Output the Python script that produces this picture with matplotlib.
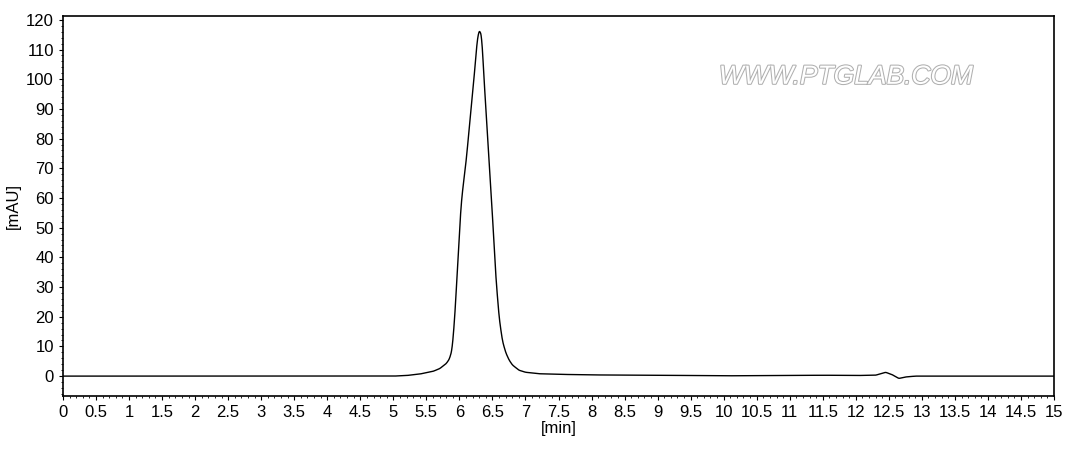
import numpy as np
import matplotlib
matplotlib.use("Agg")
import matplotlib.pyplot as plt
import matplotlib.patheffects as pe
from matplotlib.ticker import MultipleLocator

t = [0, 5.0, 5.2, 5.4, 5.6, 5.7, 5.8, 5.85, 5.89, 5.93, 5.98, 6.02, 6.05, 6.1, 6.16, 6.22, 6.26, 6.29, 6.31, 6.34, 6.37, 6.43, 6.49, 6.55, 6.6, 6.65, 6.7, 6.75, 6.8, 6.9, 7.0, 7.2, 7.5, 8.0, 9.0, 10.0, 11.0, 11.5, 12.0, 12.3, 12.45, 12.55, 12.65, 12.75, 12.9, 15.0]
mau = [0, 0, 0.2, 0.7, 1.6, 2.5, 4.2, 5.8, 9, 20, 40, 56, 63, 72, 86, 100, 111, 116, 116.5, 114, 101, 80, 58, 34, 20, 12, 8, 5.5, 3.8, 2.0, 1.3, 0.8, 0.6, 0.4, 0.3, 0.1, 0.2, 0.3, 0.2, 0.3, 1.3, 0.5, -0.8, -0.3, 0, 0]

fig = plt.figure(figsize=(10.81, 4.49), dpi=100)
ax = fig.add_axes([63/1081, 1-396/449, (1054-63)/1081, 380/449])
xs = np.linspace(0, 15, 6000)
ys = np.interp(xs, t, mau)
k = 7
ys = np.convolve(np.pad(ys, k, mode='edge'), np.ones(2*k+1)/(2*k+1), mode='same')[k:-k]
ax.plot(xs, ys, color='black', lw=1.0)
ax.set_xlim(0, 15)
ax.set_ylim(-6.7, 121.3)
ax.xaxis.set_minor_locator(MultipleLocator(0.1))
ax.yaxis.set_major_locator(MultipleLocator(10))
ax.yaxis.set_minor_locator(MultipleLocator(2))
ax.set_xticks(np.arange(0, 15.01, 0.5))
ax.set_xticklabels([('%g' % v) for v in np.arange(0, 15.01, 0.5)])
ax.tick_params(labelsize=12, length=3)
ax.tick_params(which='minor', length=1.5)
ax.set_xlabel('[min]', fontsize=12, labelpad=1)
ax.set_ylabel('[mAU]', fontsize=12)
for s in ax.spines.values():
    s.set_linewidth(1.2)
for txt in ax.get_xticklabels() + ax.get_yticklabels():
    txt.set_family('Liberation Sans')
ax.xaxis.label.set_family('Liberation Sans')
ax.yaxis.label.set_family('Liberation Sans')
ax.text(0.79, 0.84, 'WWW.PTGLAB.COM', transform=ax.transAxes, ha='center', va='center',
        fontsize=19, color='white', family='Liberation Sans', style='italic',
        path_effects=[pe.withStroke(linewidth=1.5, foreground='#b0b0b0')])
fig.savefig('out.png', dpi=100)
